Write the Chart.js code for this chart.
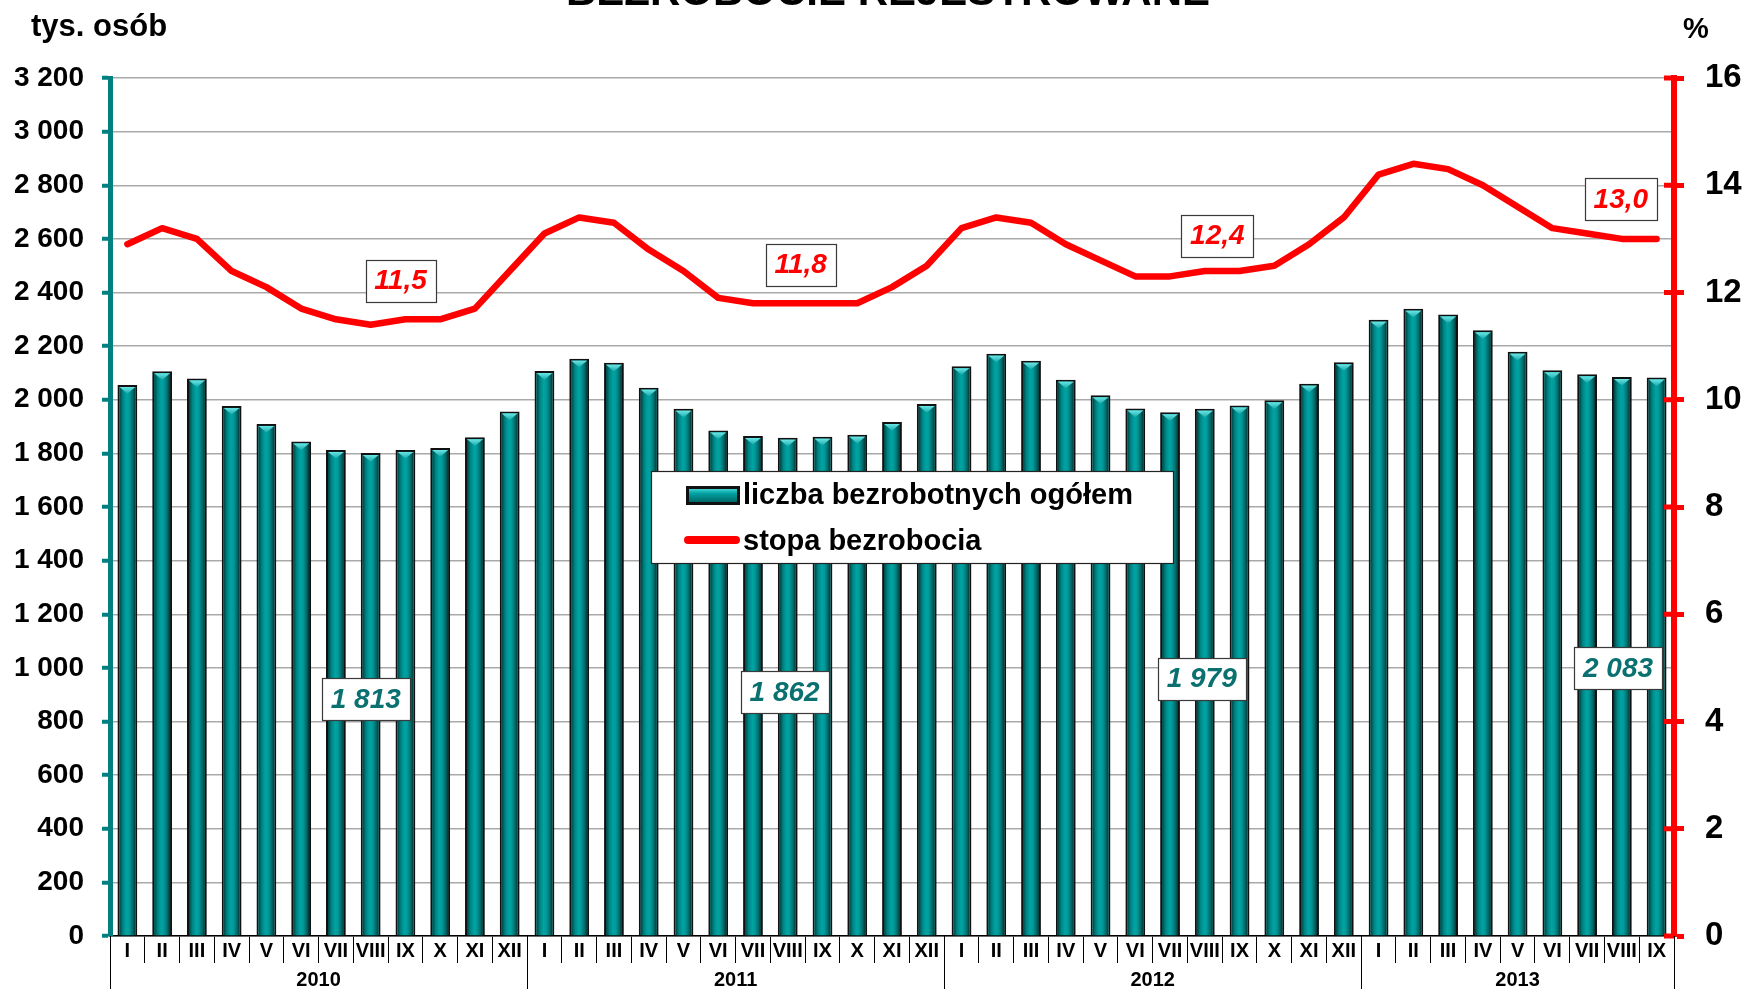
<!DOCTYPE html>
<html><head><meta charset="utf-8">
<style>html,body{margin:0;padding:0;background:#fff;overflow:hidden}#wrap{width:1747px;height:989px;position:relative}</style>
<script src="https://cdn.jsdelivr.net/npm/chart.js@4.4.1/dist/chart.umd.min.js"></script>
</head><body><div id="wrap"><canvas id="c" width="1747" height="989"></canvas></div>
<script>
// ---------------- DATA ----------------
const monthLabels = [
  'I','II','III','IV','V','VI','VII','VIII','IX','X','XI','XII',
  'I','II','III','IV','V','VI','VII','VIII','IX','X','XI','XII',
  'I','II','III','IV','V','VI','VII','VIII','IX','X','XI','XII',
  'I','II','III','IV','V','VI','VII','VIII','IX'
];
const yearLabels = ['2010','2011','2012','2013'];
const monthsPerYear = [12, 12, 12, 9];

// liczba bezrobotnych ogółem (tys. osób)
const unemployed = [
  2055, 2106, 2079, 1977, 1910, 1844, 1813, 1801, 1813, 1820, 1860, 1956,
  2107, 2153, 2138, 2045, 1966, 1885, 1865, 1858, 1862, 1869, 1917, 1984,
  2125, 2172, 2145, 2075, 2017, 1967, 1953, 1966, 1979, 1998, 2060, 2140,
  2298, 2339, 2318, 2259, 2179, 2110, 2095, 2085, 2083
];
// stopa bezrobocia (%)
const unemploymentRate = [
  12.9, 13.2, 13.0, 12.4, 12.1, 11.7, 11.5, 11.4, 11.5, 11.5, 11.7, 12.4,
  13.1, 13.4, 13.3, 12.8, 12.4, 11.9, 11.8, 11.8, 11.8, 11.8, 12.1, 12.5,
  13.2, 13.4, 13.3, 12.9, 12.6, 12.3, 12.3, 12.4, 12.4, 12.5, 12.9, 13.4,
  14.2, 14.4, 14.3, 14.0, 13.6, 13.2, 13.1, 13.0, 13.0
];
const leftAxisMax = 3200, leftAxisStep = 200;
const rightAxisMax = 16, rightAxisStep = 2;

// Annotated months (September of each year) and where their labels sit (in scale units)
const noteMonthIndex = [8, 20, 32, 44];
const rateNoteX = [7.86, 19.37, 31.36, 42.97];
const rateNoteY = [12.22, 12.52, 13.06, 13.74];
const countNoteX = [6.86, 18.91, 30.91, 42.89];
const countNoteY = [884, 910, 960, 1000];

// ---------------- STYLE ----------------
const FONT = "'Liberation Sans', Arial, Helvetica, sans-serif";
const TEAL = '#008080';
const RED = '#ff0000';
Chart.defaults.font.family = FONT;
Chart.defaults.color = '#000';

const fmtThousands = v => {
  v = Math.round(v);
  if (v >= 1000) return Math.floor(v / 1000) + ' ' + String(v % 1000).padStart(3, '0');
  return String(v);
};
const fmtPct = v => v.toFixed(1).replace('.', ',');

function barGradient(ctx, l, r) {
  const g = ctx.createLinearGradient(l, 0, r, 0);
  g.addColorStop(0, '#004444');
  g.addColorStop(0.22, '#008484');
  g.addColorStop(0.45, '#00a3a3');
  g.addColorStop(0.62, '#009a9a');
  g.addColorStop(0.85, '#006868');
  g.addColorStop(1, '#003636');
  return g;
}

function noteBox(ctx, text, cx, cy, color) {
  ctx.save();
  ctx.font = 'italic bold 28px ' + FONT;
  const tw = ctx.measureText(text).width;
  const w = Math.round(tw + 18), h = 42;
  const x = Math.round(cx - w / 2) + 0.5, y = Math.round(cy - h / 2) + 0.5;
  ctx.fillStyle = '#fff';
  ctx.fillRect(x, y, w, h);
  ctx.strokeStyle = '#3a3a3a';
  ctx.lineWidth = 1.2;
  ctx.strokeRect(x, y, w, h);
  ctx.fillStyle = color;
  ctx.textAlign = 'center';
  ctx.textBaseline = 'middle';
  ctx.fillText(text, cx, cy + 1);
  ctx.restore();
}

const decor = {
  id: 'decor',
  beforeDraw(chart) {
    const ctx = chart.ctx;
    ctx.save();
    ctx.fillStyle = '#fff';
    ctx.fillRect(0, 0, chart.width, chart.height);
    ctx.restore();
  },
  afterDatasetDraw(chart, args) {
    if (args.index !== 0) return;
    const ctx = chart.ctx;
    args.meta.data.forEach(el => {
      const p = el.getProps(['x', 'y', 'base', 'width'], true);
      const bw = 2;
      const l = p.x - p.width / 2 + bw, r = p.x + p.width / 2 - bw;
      const t = p.y + bw, b = p.base;
      const w = r - l;
      ctx.save();
      ctx.fillStyle = barGradient(ctx, l, r);
      ctx.fillRect(l, t, w, b - t);
      const th = Math.min(w * 0.42, b - t);
      const g2 = ctx.createLinearGradient(0, t, 0, t + th);
      g2.addColorStop(0, '#6ae6e6');
      g2.addColorStop(1, '#18a8a8');
      ctx.beginPath();
      ctx.moveTo(l, t); ctx.lineTo(r, t); ctx.lineTo(p.x, t + th); ctx.closePath();
      ctx.fillStyle = g2;
      ctx.fill();
      ctx.restore();
    });
  },
  afterDraw(chart) {
    const ctx = chart.ctx;
    const ca = chart.chartArea;
    const xs = chart.scales.x, ys = chart.scales.y, y1 = chart.scales.y1;
    ctx.save();

    // inner half of the right-axis tick marks
    ctx.strokeStyle = RED;
    ctx.lineWidth = 5;
    y1.ticks.forEach(t => {
      const py = y1.getPixelForValue(t.value);
      ctx.beginPath(); ctx.moveTo(ca.right - 10, py); ctx.lineTo(ca.right, py); ctx.stroke();
    });

    // year group separators and year labels
    const half = (xs.getPixelForValue(1) - xs.getPixelForValue(0)) / 2;
    let start = 0;
    ctx.strokeStyle = '#000';
    ctx.lineWidth = 1;
    ctx.fillStyle = '#000';
    ctx.font = 'bold 20px ' + FONT;
    ctx.textAlign = 'center';
    ctx.textBaseline = 'middle';
    const bounds = [];
    monthsPerYear.forEach((n, i) => {
      const left = xs.getPixelForValue(start) - half;
      const right = xs.getPixelForValue(start + n - 1) + half;
      bounds.push(left, right);
      ctx.fillText(yearLabels[i], (left + right) / 2, ca.bottom + 44);
      start += n;
    });
    bounds.forEach(bx => {
      const x = Math.round(bx) + 0.5;
      ctx.beginPath(); ctx.moveTo(x, ca.bottom); ctx.lineTo(x, chart.height); ctx.stroke();
    });

    // title (mostly outside the picture, as in the original)
    ctx.font = 'bold 42px ' + FONT;
    ctx.textAlign = 'center';
    ctx.textBaseline = 'alphabetic';
    ctx.fillText('BEZROBOCIE REJESTROWANE', 888, 5);

    // axis units
    ctx.font = 'bold 31px ' + FONT;
    ctx.textAlign = 'left';
    ctx.fillText('tys. osób', 31, 36);
    ctx.font = 'bold 29px ' + FONT;
    ctx.fillText('%', 1683, 38);

    // annotation boxes
    noteMonthIndex.forEach((mi, i) => {
      noteBox(ctx, fmtPct(unemploymentRate[mi]), xs.getPixelForValue(rateNoteX[i]), y1.getPixelForValue(rateNoteY[i]), RED);
      noteBox(ctx, fmtThousands(unemployed[mi]), xs.getPixelForValue(countNoteX[i]), ys.getPixelForValue(countNoteY[i]), '#0a7070');
    });

    // legend
    const lx = 651.5, ly = 471.5, lw = 522, lh = 92;
    ctx.fillStyle = '#fff';
    ctx.fillRect(lx, ly, lw, lh);
    ctx.strokeStyle = '#222';
    ctx.lineWidth = 1.2;
    ctx.strokeRect(lx, ly, lw, lh);
    // bar swatch
    ctx.fillStyle = '#111';
    ctx.fillRect(686, 486, 54, 19);
    const sg = ctx.createLinearGradient(0, 489, 0, 502);
    sg.addColorStop(0, '#40d2d2');
    sg.addColorStop(0.35, '#00a0a0');
    sg.addColorStop(1, '#006868');
    ctx.fillStyle = sg;
    ctx.fillRect(689, 489, 48, 13);
    // line swatch
    ctx.strokeStyle = RED;
    ctx.lineWidth = 8;
    ctx.lineCap = 'round';
    ctx.beginPath(); ctx.moveTo(688, 540); ctx.lineTo(736, 540); ctx.stroke();
    ctx.fillStyle = '#000';
    ctx.font = 'bold 29px ' + FONT;
    ctx.textAlign = 'left';
    ctx.textBaseline = 'middle';
    ctx.fillText(chart.data.datasets[0].label, 743, 496);
    ctx.fillText(chart.data.datasets[1].label, 743, 542);

    ctx.restore();
  }
};

const ctx = document.getElementById('c').getContext('2d');
new Chart(ctx, {
  data: {
    labels: monthLabels,
    datasets: [
      {
        type: 'bar',
        label: 'liczba bezrobotnych ogółem',
        data: unemployed,
        yAxisID: 'y',
        backgroundColor: '#009494',
        borderColor: '#111',
        borderWidth: 2,
        barPercentage: 0.57,
        categoryPercentage: 1.0,
        order: 1
      },
      {
        type: 'line',
        label: 'stopa bezrobocia',
        data: unemploymentRate,
        yAxisID: 'y1',
        borderColor: RED,
        backgroundColor: RED,
        borderWidth: 6.5,
        pointRadius: 0,
        tension: 0,
        borderCapStyle: 'round',
        borderJoinStyle: 'round',
        fill: false,
        order: 0
      }
    ]
  },
  options: {
    responsive: false,
    animation: false,
    devicePixelRatio: 1,
    layout: { padding: { top: 78, left: 0, right: 0, bottom: 0 } },
    plugins: { legend: { display: false }, tooltip: { enabled: false }, title: { display: false } },
    scales: {
      x: {
        type: 'category',
        offset: true,
        grid: { offset: true, drawOnChartArea: false, drawTicks: true, tickLength: 27, tickColor: '#000', tickWidth: 1 },
        border: { display: true, color: '#000', width: 1.5 },
        ticks: { autoSkip: false, maxRotation: 0, minRotation: 0, padding: -24, color: '#000', font: { size: 20, weight: 'bold' } },
        afterFit(s) { s.height = 53; }
      },
      y: {
        position: 'left',
        min: 0, max: leftAxisMax,
        ticks: { stepSize: leftAxisStep, padding: 18, color: '#000', font: { size: 28, weight: 'bold' }, callback: v => fmtThousands(v) },
        grid: { color: '#a9a9a9', lineWidth: 1.5, drawTicks: true, tickLength: 8, tickColor: TEAL, tickWidth: 4 },
        border: { display: true, color: TEAL, width: 5 },
        afterFit(s) { s.width = 110; }
      },
      y1: {
        position: 'right',
        min: 0, max: rightAxisMax,
        ticks: { stepSize: rightAxisStep, padding: 21, color: '#000', font: { size: 33, weight: 'bold' } },
        grid: { drawOnChartArea: false, drawTicks: true, tickLength: 10, tickColor: RED, tickWidth: 5 },
        border: { display: true, color: RED, width: 6 },
        afterFit(s) { s.width = 73; }
      }
    }
  },
  plugins: [decor]
});
</script>
</body></html>
